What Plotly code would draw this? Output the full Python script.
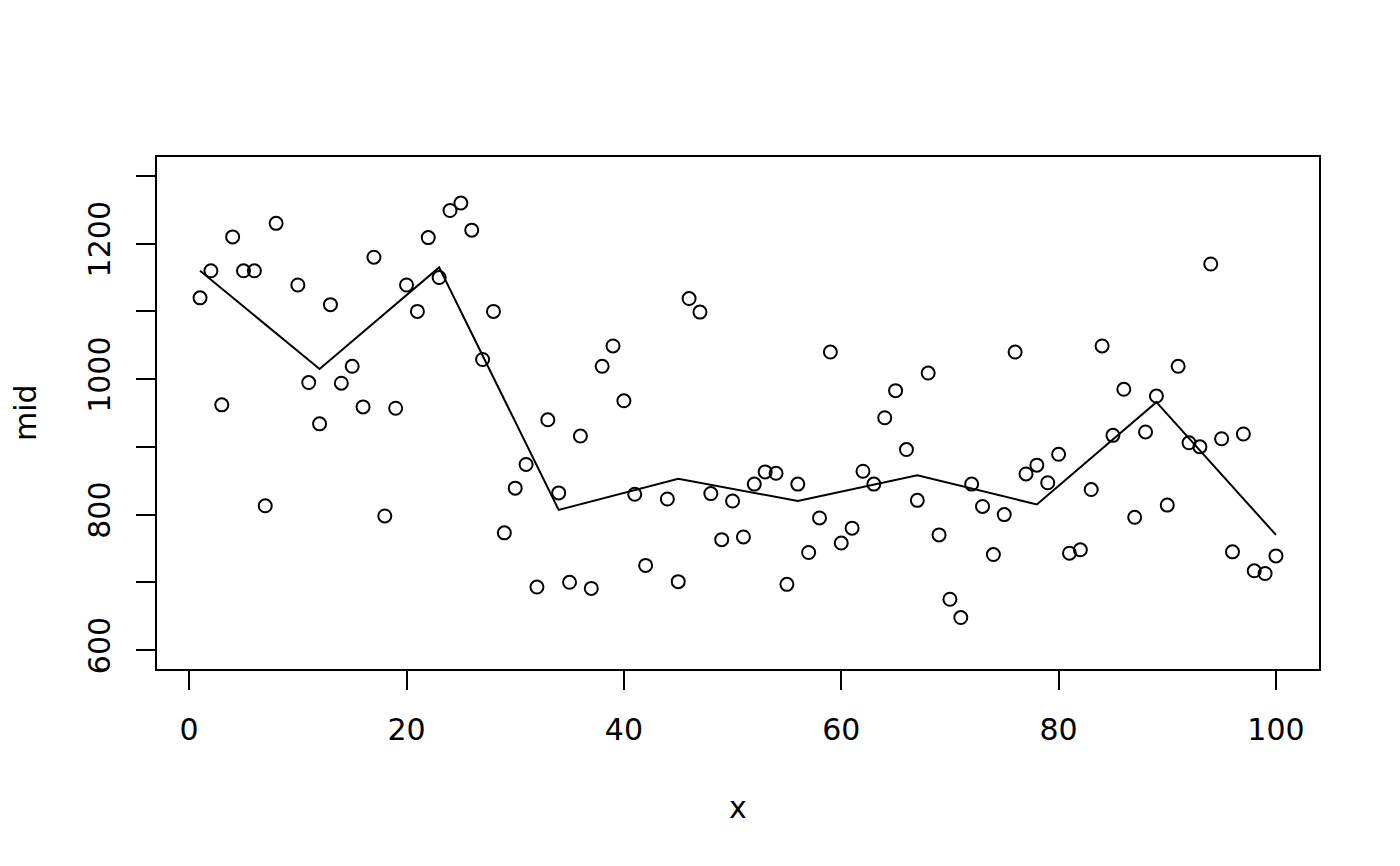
import plotly.graph_objects as go

# Scatter data (x index, "mid" value); x=9 and x=43 are absent
x_pts = [1, 2, 3, 4, 5, 6, 7, 8, 10, 11, 12, 13, 14, 15, 16, 17, 18, 19, 20,
         21, 22, 23, 24, 25, 26, 27, 28, 29, 30, 31, 32, 33, 34, 35, 36, 37, 38, 39, 40,
         41, 42, 44, 45, 46, 47, 48, 49, 50, 51, 52, 53, 54, 55, 56, 57, 58, 59, 60,
         61, 62, 63, 64, 65, 66, 67, 68, 69, 70, 71, 72, 73, 74, 75, 76, 77, 78, 79, 80,
         81, 82, 83, 84, 85, 86, 87, 88, 89, 90, 91, 92, 93, 94, 95, 96, 97, 98, 99, 100]
mid_pts = [1120, 1160, 962, 1210, 1160, 1160, 813, 1230, 1139, 995, 934, 1110, 994, 1019, 959, 1180, 798, 957, 1139,
           1100, 1209, 1150, 1249, 1260, 1220, 1029, 1100, 773, 839, 874, 693, 940, 832, 700, 916, 691, 1019, 1049, 968,
           830, 725, 823, 701, 1119, 1099, 831, 763, 820, 767, 845, 863, 861, 697, 845, 744, 795, 1040, 758,
           780, 864, 845, 943, 983, 896, 821, 1009, 770, 675, 648, 845, 812, 741, 800, 1040, 860, 873, 847, 889,
           743, 748, 837, 1049, 917, 985, 796, 922, 975, 814, 1019, 906, 900, 1170, 912, 745, 919, 717, 713, 739]

# Smoothed line
x_line = [1, 12, 23, 34, 45, 56, 67, 78, 89, 100]
mid_line = [1160, 1015, 1165, 807, 853, 820, 858, 815, 966, 770]

x_ticks = [0, 20, 40, 60, 80, 100]
y_ticks = [600, 700, 800, 900, 1000, 1100, 1200, 1300]
y_ticktext = ["600", "", "800", "", "1000", "", "1200", ""]

FONT = "DejaVu Sans, Liberation Sans, Arial, sans-serif"
FS = 30

fig = go.Figure()
fig.add_trace(go.Scatter(
    x=x_pts, y=mid_pts, mode="markers",
    marker=dict(symbol="circle-open", size=13, color="black", line=dict(width=2, color="black")),
    showlegend=False, hoverinfo="x+y"))
fig.add_trace(go.Scatter(
    x=x_line, y=mid_line, mode="lines",
    line=dict(color="black", width=2),
    showlegend=False, hoverinfo="x+y"))

axis_common = dict(
    showgrid=False, zeroline=False, showline=True, linecolor="black", linewidth=2,
    mirror=True, ticks="outside", ticklen=19, tickwidth=2, tickcolor="black",
    tickfont=dict(family=FONT, size=FS, color="black"),
)

# page body has an 8px margin: figure is placed at (8, 8)
fig.update_layout(
    width=1392, height=858,
    margin=dict(l=149, r=81, t=149, b=197),
    paper_bgcolor="white", plot_bgcolor="white",
    font=dict(family=FONT, size=FS, color="black"),
    xaxis=dict(range=[-2.96, 103.96], tickvals=x_ticks, ticklabelstandoff=14, **axis_common),
    yaxis=dict(range=[572, 1328], tickvals=y_ticks, ticktext=y_ticktext, tickangle=-90,
               ticklabelstandoff=14, **axis_common),
    annotations=[
        dict(text="x", xref="paper", yref="paper", x=0.5, y=0, yshift=-138,
             showarrow=False, font=dict(family=FONT, size=FS, color="black"),
             xanchor="center", yanchor="middle"),
        dict(text="mid", xref="paper", yref="paper", x=0, y=0.5, xshift=-132,
             showarrow=False, textangle=-90, font=dict(family=FONT, size=FS, color="black"),
             xanchor="center", yanchor="middle"),
    ],
)

fig.write_html("out.html")
